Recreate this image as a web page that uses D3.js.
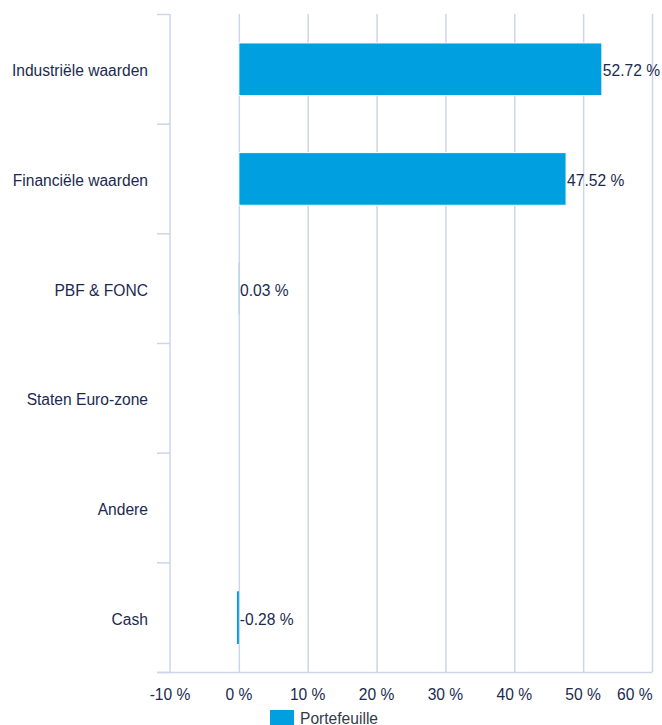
<!DOCTYPE html>
<html>
<head>
<meta charset="utf-8">
<script src="https://cdn.jsdelivr.net/npm/d3@7"></script>
<style>
  html, body { margin: 0; padding: 0; background: #ffffff; }
  svg { display: block; font-family: "Liberation Sans", Arial, Helvetica, sans-serif; }
</style>
</head>
<body>
<svg id="chart" width="662" height="725"></svg>
<script>
const categories = ["Industriële waarden", "Financiële waarden", "PBF & FONC", "Staten Euro-zone", "Andere", "Cash"];
const values = [52.72, 47.52, 0.03, null, null, -0.28];
const valueLabels = ["52.72 %", "47.52 %", "0.03 %", "", "", "-0.28 %"];
const xTicks = [-10, 0, 10, 20, 30, 40, 50, 60];
const seriesName = "Portefeuille";

(function () {
const svg = d3.select("#chart");
const textColor = "#1b2a4f";
const gridColor = "#ccd6e8";
const barColor = "#009fe0";

const pLeft = 170, pRight = 652, pTop = 14, pBottom = 672;

const x = d3.scaleLinear().domain([-10, 60]).range([pLeft, pRight]);
const y = d3.scaleBand().domain(categories).range([pTop, pBottom]).padding(0);

// vertical grid lines
svg.append("g").selectAll("line").data(xTicks.filter(t => t !== -10)).join("line")
  .attr("x1", d => x(d) + 0.5).attr("x2", d => x(d) + 0.5)
  .attr("y1", pTop).attr("y2", pBottom)
  .attr("stroke", gridColor).attr("stroke-width", 1.5);

// y axis line
svg.append("line")
  .attr("x1", pLeft).attr("x2", pLeft).attr("y1", pTop).attr("y2", pBottom)
  .attr("stroke", gridColor).attr("stroke-width", 1.5);

// category ticks at band boundaries
const boundaries = categories.map(c => y(c)).concat([pBottom]);
svg.append("g").selectAll("line").data(boundaries).join("line")
  .attr("x1", pLeft - 13).attr("x2", pLeft)
  .attr("y1", d => d + 0.5).attr("y2", d => d + 0.5)
  .attr("stroke", gridColor).attr("stroke-width", 1.5);

// x axis line
svg.append("line")
  .attr("x1", pLeft - 13).attr("x2", pRight + 0.5).attr("y1", pBottom + 0.5).attr("y2", pBottom + 0.5)
  .attr("stroke", gridColor).attr("stroke-width", 1.5);

// category labels
svg.append("g").selectAll("text").data(categories).join("text")
  .attr("x", 148)
  .attr("y", d => y(d) + y.bandwidth() / 2 + 2)
  .attr("dy", "0.35em")
  .attr("text-anchor", "end")
  .attr("fill", textColor)
  .attr("font-size", "15.6px")
  .text(d => d);

// x tick labels
const lastTick = xTicks[xTicks.length - 1];
svg.append("g").selectAll("text").data(xTicks).join("text")
  .attr("x", d => x(d) + (d === lastTick ? 0.5 : 0))
  .attr("y", 700)
  .attr("text-anchor", d => d === lastTick ? "end" : "middle")
  .attr("fill", textColor)
  .attr("font-size", "15.6px")
  .text(d => d + " %");

// bars
const bw = y.bandwidth();
const data = categories.map((c, i) => ({ c, v: values[i], label: valueLabels[i] })).filter(d => d.v !== null);
svg.append("g").selectAll("rect").data(data).join("rect")
  .attr("x", d => Math.min(x(0), x(d.v)))
  .attr("y", d => y(d.c) + bw * 0.264)
  .attr("width", d => Math.abs(x(d.v) - x(0)))
  .attr("height", bw * 0.48)
  .attr("fill", barColor)
  .attr("stroke", d => Math.abs(x(d.v) - x(0)) > 3 ? "#ffffff" : "none")
  .attr("stroke-width", 1);

// value labels
svg.append("g").selectAll("text").data(data).join("text")
  .attr("x", d => Math.max(x(0), x(d.v)) + 1)
  .attr("y", d => y(d.c) + bw / 2 + 2)
  .attr("dy", "0.35em")
  .attr("fill", textColor)
  .attr("font-size", "15.6px")
  .text(d => d.label);

// legend
const lg = svg.append("g");
lg.append("rect").attr("x", 270).attr("y", 710).attr("width", 24).attr("height", 16).attr("fill", barColor);
lg.append("text").attr("x", 300).attr("y", 723.5).attr("fill", "#333a4a").attr("font-size", "15.6px").text(seriesName);
})();
</script>
</body>
</html>
